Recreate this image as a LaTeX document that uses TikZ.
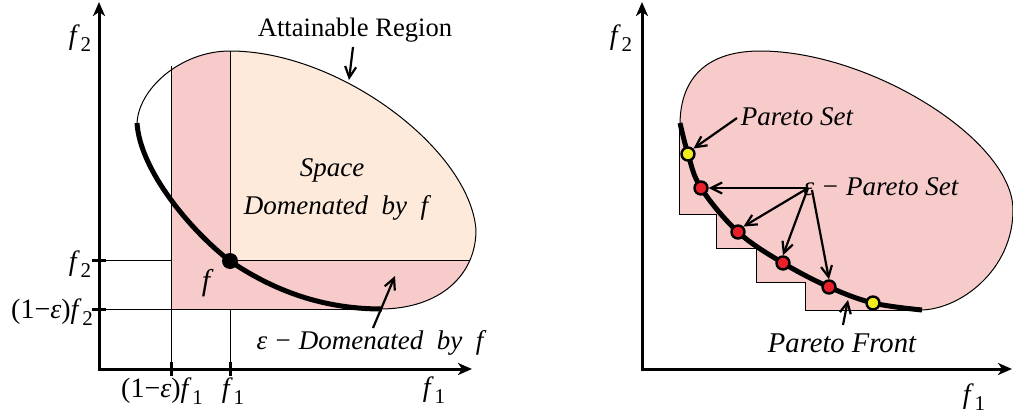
\documentclass[tikz,border=0pt]{standalone}
\usepackage{fontspec}
\setmainfont{Liberation Serif}
\usetikzlibrary{arrows.meta}
\definecolor{pinkf}{HTML}{F8CBCB}
\definecolor{peach}{HTML}{FDEADB}
\definecolor{redpt}{HTML}{E8202A}
\definecolor{ylwpt}{HTML}{F2EC1E}
\newcommand{\fsb}[1]{\textit{f}\kern0.3pt\raisebox{-0.55ex}{\fontsize{10.5}{11}\selectfont #1}}
\begin{document}
\begin{tikzpicture}[x=0.5pt,y=-0.5pt,
  axisline/.style={line width=1.5pt,-{Stealth[length=7pt,width=6pt,inset=2pt]}},
  thinline/.style={line width=0.5pt},
  frontline/.style={line width=2.5pt},
  tickline/.style={line width=1.5pt},
  ptr/.style={line width=1.1pt,-{Straight Barb[length=5.5pt,width=5.5pt]}},
  lbl/.style={font=\fontsize{13.5}{16}\selectfont\itshape, inner sep=0pt},
  axlbl/.style={font=\fontsize{14}{16}\selectfont, inner sep=0pt},
  dotr/.style={circle, draw=black, line width=1.2pt, fill=redpt, minimum size=6.5pt, inner sep=0pt},
  doty/.style={circle, draw=black, line width=1.2pt, fill=ylwpt, minimum size=6.5pt, inner sep=0pt}
]
\useasboundingbox (0,0) rectangle (1013,412);

% ---------------- LEFT PANEL ----------------
\begin{scope}
\clip (380,309) .. controls (440,309) and (476,275) .. (476,230) .. controls (470,150) and (340,51) .. (230,51) .. controls (180,51) and (137,90) .. (137,125) -- (137,309) -- cycle;
\fill[pinkf] (171,0) rectangle (520,309);
\fill[peach] (230,0) rectangle (520,260);
\end{scope}

\draw[thinline] (171,66) -- (171,369);
\draw[thinline] (230,51) -- (230,261);
\draw[thinline] (230,309) -- (230,369);
\draw[thinline] (99,260) -- (171,260);
\draw[thinline] (230,260) -- (470,260);
\draw[thinline] (99,309) -- (380,309);

\draw[thinline] (137,125) .. controls (140,170) and (190,230) .. (230,261) .. controls (280,295) and (330,309) .. (380,309) .. controls (440,309) and (476,275) .. (476,230) .. controls (470,150) and (340,51) .. (230,51) .. controls (180,51) and (137,90) .. (137,125) -- cycle;
\draw[frontline] (137,123) .. controls (140,170) and (190,230) .. (230,261) .. controls (280,295) and (330,309) .. (382,309);

\node[circle, fill=black, minimum size=8pt, inner sep=0pt] (fpt) at (230,261) {};

\draw[tickline] (92,260) -- (106,260);
\draw[tickline] (92,309) -- (106,309);
\draw[tickline] (171,362) -- (171,376);
\draw[tickline] (230,362) -- (230,376);

\coordinate (O1) at (99,369);
\coordinate (Y1) at (99,2);
\coordinate (X1) at (472,369);
\draw[axisline] ([yshift=-0.75pt]O1) -- (Y1);
\draw[axisline] ([xshift=-0.75pt]O1) -- (X1);

\node[axlbl] (f2a) at (80,38) {\fsb{2}};
\node[axlbl] (f1a) at (434,390) {\fsb{1}};
\node[axlbl] (f2t) at (80,264) {\fsb{2}};
\node[axlbl] (f2e) at (52,312) {(1−\textit{ε})\fsb{2}};
\node[axlbl] (f1e) at (162,391) {(1−\textit{ε})\fsb{1}};
\node[axlbl] (f1t) at (233,391) {\fsb{1}};

\node[font=\fontsize{13.3}{16}\selectfont, inner sep=0pt] (attr) at (355,30) {Attainable Region};
\coordinate (attrA) at (353,47);
\coordinate (attrB) at (349,80);
\draw[ptr] (attrA) -- (attrB);

\node[lbl] (space) at (332,170) {Space};
\node[lbl] (dom) at (336,208) {Domenated\ \ by\ \ f};
\node[lbl, font=\fontsize{15}{16}\selectfont\itshape] (flab) at (206,283) {f};
\node[lbl] (edom) at (370,343) {ε − Domenated\ \ by\ \ f};
\coordinate (edA) at (373,328);
\coordinate (edB) at (395,276);
\draw[ptr] (edA) -- (edB);

% ---------------- RIGHT PANEL ----------------
\fill[pinkf] (680,125) .. controls (680,75) and (710,51) .. (760,51) .. controls (870,51) and (1013,140) .. (1013,210) .. controls (1013,270) and (960,310) .. (920,310)
  -- (805,310) -- (805,282) -- (756,282) -- (756,248) -- (716,248) -- (716,214) -- (679,214) -- (679,125) -- cycle;
\draw[thinline] (680,125) .. controls (680,75) and (710,51) .. (760,51) .. controls (870,51) and (1013,140) .. (1013,210) .. controls (1013,270) and (960,310) .. (920,310);
\draw[thinline] (679,125) -- (679,214) -- (716,214) -- (716,248) -- (756,248) -- (756,282) -- (805,282) -- (805,310) -- (921,310);
\draw[frontline] plot[smooth, tension=0.6] coordinates {(680,123) (688,154) (701,188) (738,232) (783,263) (829,287) (873,303) (922,310)};

\node[doty] (y1) at (688,154) {};
\node[dotr] (r1) at (701,188) {};
\node[dotr] (r2) at (738,232) {};
\node[dotr] (r3) at (783,263) {};
\node[dotr] (r4) at (829,287) {};
\node[doty] (y2) at (873,303) {};

\coordinate (O2) at (642,369);
\coordinate (Y2) at (642,2);
\coordinate (X2) at (1012,369);
\draw[axisline] ([yshift=-0.75pt]O2) -- (Y2);
\draw[axisline] ([xshift=-0.75pt]O2) -- (X2);
\node[axlbl] (f2b) at (621,38) {\fsb{2}};
\node[axlbl] (f1b) at (974,397) {\fsb{1}};

\node[lbl] (pset) at (797,117) {Pareto Set};
\coordinate (psA) at (737,118);
\draw[ptr] (psA) -- (y1.north east);

\node[lbl] (eps) at (881,187) {ε − Pareto Set};
\coordinate (epA) at (808,188);
\coordinate (epB) at (812,190);
\draw[ptr] (epA) -- (r1.east);
\draw[ptr] (epA) -- (r2.north east);
\draw[ptr] (epA) -- (r3.north);
\draw[ptr] (epB) -- (r4.north);

\node[lbl, font=\fontsize{14.3}{16}\selectfont\itshape] (pfront) at (842,343) {Pareto Front};
\coordinate (pfA) at (843,325);
\coordinate (pfB) at (848,300);
\draw[ptr] (pfA) -- (pfB);
\end{tikzpicture}
\end{document}
